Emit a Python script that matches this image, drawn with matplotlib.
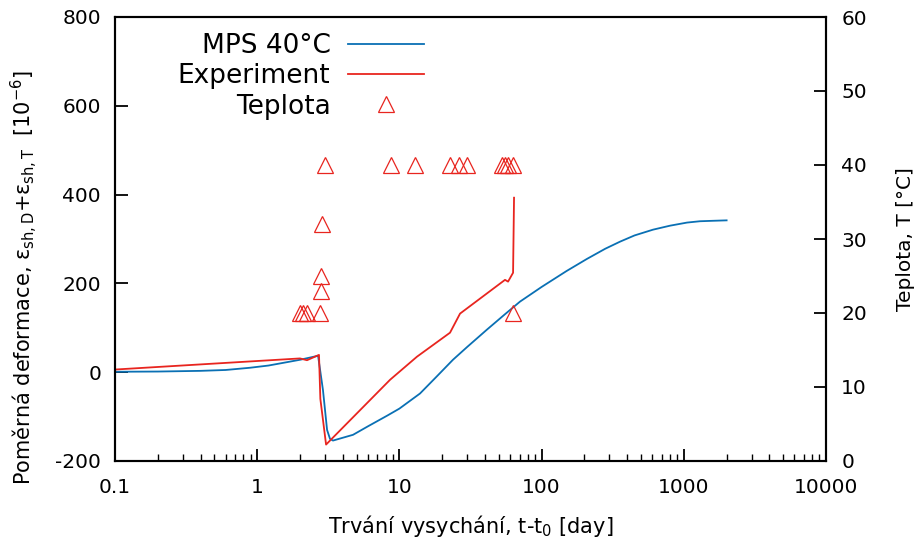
import matplotlib
matplotlib.use("Agg")
import matplotlib.pyplot as plt
from matplotlib.ticker import LogLocator, NullFormatter

plt.rcParams['axes.unicode_minus'] = False

# MPS model curve
mps_t = [0.1, 0.2, 0.396, 0.6, 0.889, 1.2, 1.52, 2.0, 2.68, 2.9, 3.1, 3.25, 3.41, 4.72, 6.0, 8.19, 10, 13.96, 18, 23.8, 30, 41.3, 55, 70.5, 100, 150, 208, 280, 356, 450, 607, 800, 1054, 1300, 1600, 2000]
mps_v = [1, 1.5, 3, 5, 10, 15, 21, 28, 37, -40, -130, -150, -154, -141, -122, -98, -82, -48, -12, 28, 57, 96, 130, 159, 192, 228, 255, 278, 294, 308, 321, 330, 337, 340, 341, 342]

# Experiment
exp_t = [0.1, 2.0, 2.24, 2.72, 2.78, 3.05, 8.6, 13.3, 22.7, 26.7, 55.3, 58.1, 63, 64]
exp_v = [6, 31, 27, 39, -60, -163, -17, 35, 89, 132, 208, 204, 224, 393]

# Temperature
temp_t = [2.0, 2.1, 2.24, 2.77, 2.8, 2.8, 2.86, 3.0, 8.7, 12.9, 22.7, 26.2, 29.9, 52.6, 55.3, 58.1, 63, 63]
temp_v = [20, 20, 20, 20, 23, 25, 32, 40, 40, 40, 40, 40, 40, 40, 40, 40, 40, 20]

blue = '#0a70b4'
red = '#e8251f'

fig = plt.figure(figsize=(9.2, 5.42), dpi=100)
ax = fig.add_axes([115/920, 1-461/542, (826-115)/920, (461-17)/542])
ax2 = ax.twinx()

l1, = ax.plot(mps_t, mps_v, color=blue, lw=1.3, label='MPS 40°C')
l2, = ax.plot(exp_t, exp_v, color=red, lw=1.3, label='Experiment')
l3, = ax2.plot(temp_t, temp_v, ls='none', marker='^', ms=12, mfc='none', mec=red, mew=0.9, label='Teplota')

ax.set_xscale('log')
ax.set_xlim(0.1, 10000)
ax.set_ylim(-200, 800)
ax2.set_ylim(0, 60)
ax.set_yticks([-200, 0, 200, 400, 600, 800])
ax2.set_yticks([0, 10, 20, 30, 40, 50, 60])
ax.set_xticks([0.1, 1, 10, 100, 1000, 10000])
ax.set_xticklabels(['0.1', '1', '10', '100', '1000', '10000'])
ax.xaxis.set_minor_locator(LogLocator(base=10, subs=range(2, 10), numticks=20))
ax.xaxis.set_minor_formatter(NullFormatter())

for a in (ax, ax2):
    for s in a.spines.values():
        s.set_linewidth(1.5)
ax.tick_params(axis='x', which='major', direction='in', length=9, width=1.3, labelsize=14.5, top=False, pad=12)
ax.tick_params(axis='y', which='major', direction='in', length=9, width=1.3, labelsize=14.5, right=False, pad=10)
ax.tick_params(axis='x', which='minor', direction='in', length=5, width=1.0, top=False)
ax.tick_params(axis='y', which='minor', left=False)
ax2.tick_params(axis='y', which='major', direction='in', length=9, width=1.3, labelsize=14.5, pad=11)

ax.set_xlabel('Trvání vysychání, t-t$_0$ [day]', fontsize=15, labelpad=12)
ax.set_ylabel('Poměrná deformace, ε$_{\\mathrm{sh,D}}$+ε$_{\\mathrm{sh,T}}$  [10$^{-6}$]', fontsize=15)
ax.yaxis.set_label_coords(-0.105, 0.412)
ax2.set_ylabel('Teplota, T [°C]', fontsize=14.5, labelpad=21)

leg = ax.legend([l1, l2, l3], ['MPS 40°C', 'Experiment', 'Teplota'], loc='upper left',
                bbox_to_anchor=(0.055, 1.018), frameon=False, markerfirst=False,
                fontsize=19, handlelength=2.9, labelspacing=0.17, handletextpad=0.65)
for t in leg.get_texts():
    t.set_ha('right')

fig.savefig('out.png', dpi=100)
